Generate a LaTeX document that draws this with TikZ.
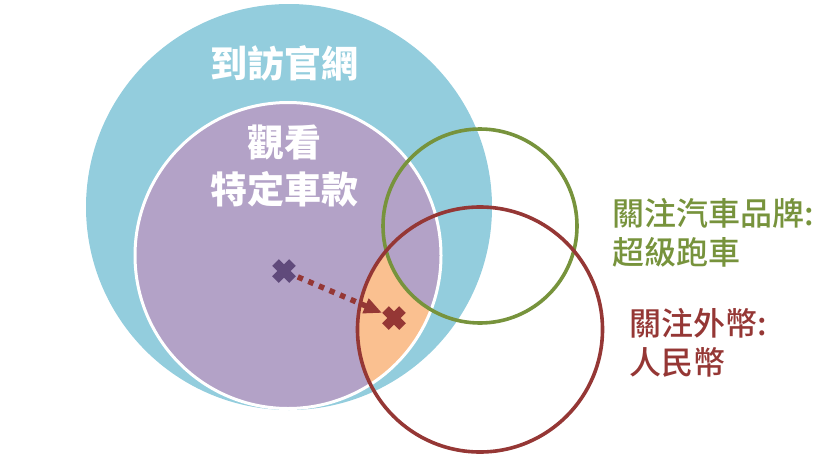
\documentclass[tikz,border=0pt]{standalone}
\usepackage{fontspec}
\newfontfamily\cjk{Noto Sans CJK TC}
\newfontfamily\cjkm{Noto Sans CJK TC Medium}
\usetikzlibrary{arrows.meta,calc}
\definecolor{cblue}{HTML}{93CDDD}
\definecolor{cpurple}{HTML}{B3A2C7}
\definecolor{corange}{HTML}{FAC090}
\definecolor{cgreen}{HTML}{77933C}
\definecolor{cred}{HTML}{953735}
\definecolor{cdpurple}{HTML}{604A7B}
\tikzset{
  lbl/.style={inner sep=0pt},
  crossmark/.style={line width=9.5pt, line cap=butt},
  ring/.style={line width=3.6pt, fill=none},
}
\begin{document}
\begin{tikzpicture}[x=1pt,y=-1pt]
\useasboundingbox (0,0) rectangle (840,453);
% circles
\fill[cblue] (289,207) circle (203);
\fill[cpurple] (288,255.5) circle (153);
\begin{scope}
  \clip (288,255.5) circle (153);
  \clip (480,329.5) circle (122.5);
  \fill[corange] (300,150) rectangle (500,453);
  \clip (480,226) circle (97);
  \fill[cpurple] (300,100) rectangle (600,453);
\end{scope}
\draw[white, line width=3pt] (288,255.5) circle (153);
\draw[ring, cgreen] (480,226) circle (97);
\draw[ring, cred] (480,329.5) circle (122.5);
% crosses
\coordinate (p1) at (284,271);
\coordinate (p2) at (394,318);
\draw[crossmark, cdpurple] ($(p1)+(-8.5,-8.5)$) -- ($(p1)+(8.5,8.5)$);
\draw[crossmark, cdpurple] ($(p1)+(-8.5,8.5)$) -- ($(p1)+(8.5,-8.5)$);
\draw[crossmark, cred] ($(p2)+(-8.5,-8.5)$) -- ($(p2)+(8.5,8.5)$);
\draw[crossmark, cred] ($(p2)+(-8.5,8.5)$) -- ($(p2)+(8.5,-8.5)$);
\draw[cred, line width=5.5pt, dash pattern=on 5.5pt off 6pt, shorten <=15pt, shorten >=13pt,
  -{Triangle[length=18pt,width=15pt]}] (p1) -- (p2);
% labels
\node[lbl, white, font=\cjk\bfseries\fontsize{37}{47}\selectfont] (site) at (284,63) {到訪官網};
\node[lbl, white, align=center, font=\cjk\bfseries\fontsize{37}{47}\selectfont] (model) at (284,166.5) {觀看\\特定車款};
\node[lbl, cgreen, anchor=west, align=left, font=\cjkm\fontsize{32}{39}\selectfont] (brand) at (612,232.5) {關注汽車品牌:\\超級跑車};
\node[lbl, cred, anchor=west, align=left, font=\cjkm\fontsize{32}{39}\selectfont] (fx) at (629,342.5) {關注外幣:\\人民幣};
\end{tikzpicture}
\end{document}
